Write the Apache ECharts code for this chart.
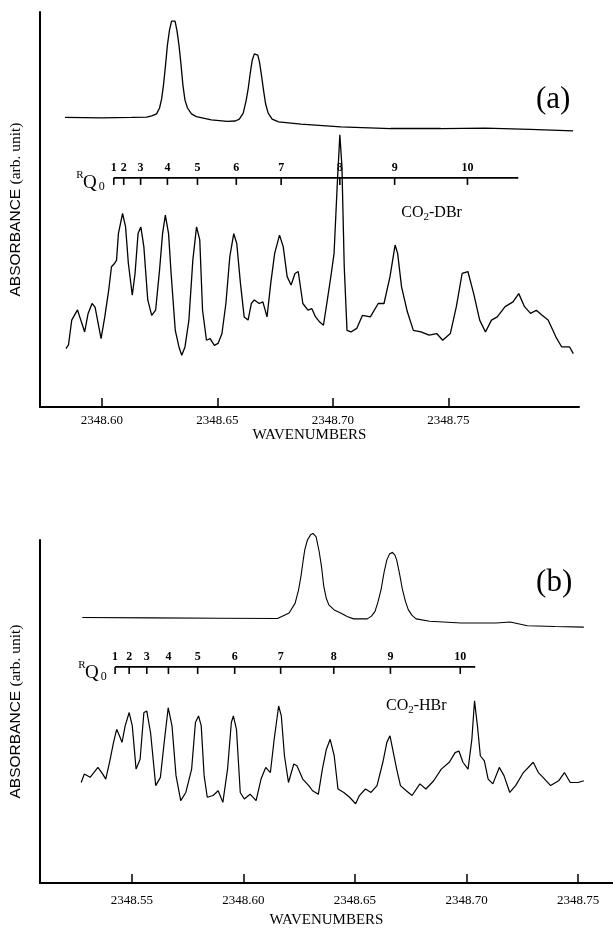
<!DOCTYPE html>
<html>
<head>
<meta charset="utf-8">
<script src="https://cdn.jsdelivr.net/npm/echarts@6/dist/echarts.min.js"></script>
<style>
html,body{margin:0;padding:0;background:#fff;}
#c{width:613px;height:931px;}
</style>
</head>
<body>
<div id="c"></div>
<script>
// ---------- Panel (a): CO2-DBr ----------
const ticksA = [2348.60, 2348.65, 2348.70, 2348.75];
const topA_wn = [2348.5841,2348.6000,2348.6129,2348.6194,2348.6216,2348.6237,2348.6250,2348.6259,2348.6267,2348.6276,2348.6284,2348.6293,2348.6302,2348.6309,2348.6317,2348.6325,2348.6334,2348.6343,2348.6351,2348.6360,2348.6371,2348.6388,2348.6409,2348.6474,2348.6543,2348.6578,2348.6595,2348.6612,2348.6625,2348.6634,2348.6643,2348.6651,2348.6660,2348.6667,2348.6675,2348.6683,2348.6692,2348.6701,2348.6709,2348.6720,2348.6737,2348.6765,2348.6862,2348.7034,2348.7250,2348.7466,2348.7659,2348.7853,2348.8039];
const topA_abs = [0.733,0.732,0.733,0.734,0.737,0.742,0.757,0.780,0.815,0.866,0.916,0.954,0.977,0.982,0.977,0.954,0.916,0.866,0.815,0.777,0.757,0.742,0.735,0.727,0.723,0.724,0.729,0.744,0.777,0.808,0.848,0.878,0.894,0.896,0.891,0.871,0.835,0.797,0.767,0.744,0.729,0.722,0.716,0.709,0.705,0.705,0.706,0.703,0.699];
const specA_wn = [2348.5845,2348.5856,2348.5870,2348.5895,2348.5912,2348.5926,2348.5941,2348.5958,2348.5971,2348.5997,2348.6013,2348.6030,2348.6042,2348.6056,2348.6064,2348.6072,2348.6090,2348.6103,2348.6115,2348.6132,2348.6144,2348.6157,2348.6169,2348.6182,2348.6199,2348.6216,2348.6233,2348.6250,2348.6263,2348.6275,2348.6289,2348.6300,2348.6318,2348.6334,2348.6346,2348.6360,2348.6377,2348.6394,2348.6410,2348.6424,2348.6436,2348.6453,2348.6469,2348.6487,2348.6503,2348.6520,2348.6537,2348.6554,2348.6571,2348.6584,2348.6600,2348.6616,2348.6633,2348.6647,2348.6660,2348.6681,2348.6697,2348.6715,2348.6731,2348.6748,2348.6769,2348.6785,2348.6802,2348.6819,2348.6836,2348.6850,2348.6870,2348.6892,2348.6909,2348.6925,2348.6943,2348.6959,2348.6976,2348.6993,2348.7005,2348.7019,2348.7030,2348.7039,2348.7049,2348.7061,2348.7078,2348.7103,2348.7128,2348.7162,2348.7196,2348.7221,2348.7247,2348.7269,2348.7280,2348.7297,2348.7322,2348.7348,2348.7381,2348.7416,2348.7449,2348.7475,2348.7508,2348.7534,2348.7559,2348.7584,2348.7609,2348.7635,2348.7660,2348.7686,2348.7711,2348.7745,2348.7779,2348.7804,2348.7829,2348.7855,2348.7880,2348.7905,2348.7931,2348.7965,2348.7990,2348.8024,2348.8040];
const specA_abs = [0.148,0.157,0.220,0.246,0.215,0.190,0.237,0.262,0.253,0.173,0.228,0.296,0.355,0.364,0.372,0.439,0.490,0.456,0.364,0.283,0.338,0.439,0.456,0.406,0.271,0.232,0.245,0.347,0.439,0.486,0.439,0.338,0.194,0.152,0.131,0.152,0.220,0.372,0.456,0.423,0.245,0.169,0.173,0.156,0.161,0.186,0.262,0.381,0.439,0.414,0.313,0.228,0.220,0.262,0.271,0.262,0.266,0.228,0.313,0.389,0.435,0.406,0.330,0.309,0.338,0.343,0.262,0.245,0.249,0.228,0.215,0.207,0.271,0.338,0.389,0.566,0.689,0.609,0.355,0.194,0.190,0.199,0.232,0.228,0.262,0.262,0.330,0.410,0.389,0.304,0.241,0.194,0.190,0.182,0.186,0.169,0.186,0.254,0.338,0.343,0.287,0.220,0.190,0.220,0.228,0.254,0.266,0.287,0.254,0.237,0.245,0.232,0.220,0.177,0.152,0.152,0.135];
const ladderA_wn = [2348.6052,2348.6095,2348.6168,2348.6284,2348.6414,2348.6582,2348.6776,2348.7030,2348.7267,2348.7582];
const ladderA_end = 2348.7802;
const ladderA_level = 0.580;

// ---------- Panel (b): CO2-HBr ----------
const ticksB = [2348.55, 2348.60, 2348.65, 2348.70, 2348.75];
const topB_wn = [2348.5278,2348.5585,2348.5898,2348.6153,2348.6205,2348.6232,2348.6247,2348.6258,2348.6267,2348.6275,2348.6287,2348.6301,2348.6312,2348.6326,2348.6340,2348.6351,2348.6360,2348.6371,2348.6383,2348.6407,2348.6436,2348.6465,2348.6494,2348.6555,2348.6574,2348.6590,2348.6603,2348.6617,2348.6630,2348.6643,2348.6655,2348.6668,2348.6679,2348.6687,2348.6700,2348.6713,2348.6726,2348.6739,2348.6755,2348.6774,2348.6835,2348.6975,2348.7133,2348.7196,2348.7273,2348.7397,2348.7526];
const topB_abs = [0.774,0.773,0.772,0.771,0.787,0.816,0.854,0.894,0.936,0.971,1.000,1.015,1.019,1.009,0.965,0.918,0.866,0.831,0.811,0.796,0.787,0.777,0.770,0.770,0.778,0.792,0.819,0.855,0.904,0.942,0.959,0.964,0.956,0.942,0.901,0.855,0.822,0.797,0.781,0.770,0.763,0.758,0.758,0.761,0.750,0.748,0.746];
const specB_wn = [2348.5273,2348.5287,2348.5313,2348.5348,2348.5369,2348.5383,2348.5400,2348.5418,2348.5432,2348.5444,2348.5456,2348.5470,2348.5488,2348.5502,2348.5519,2348.5537,2348.5554,2348.5567,2348.5584,2348.5607,2348.5628,2348.5645,2348.5663,2348.5680,2348.5698,2348.5719,2348.5742,2348.5768,2348.5785,2348.5799,2348.5811,2348.5824,2348.5838,2348.5864,2348.5887,2348.5908,2348.5929,2348.5946,2348.5955,2348.5969,2348.5986,2348.6004,2348.6030,2348.6057,2348.6079,2348.6100,2348.6121,2348.6138,2348.6158,2348.6170,2348.6184,2348.6202,2348.6226,2348.6240,2348.6266,2348.6293,2348.6310,2348.6336,2348.6354,2348.6372,2348.6389,2348.6407,2348.6424,2348.6450,2348.6476,2348.6503,2348.6520,2348.6547,2348.6572,2348.6599,2348.6625,2348.6643,2348.6657,2348.6669,2348.6687,2348.6704,2348.6730,2348.6756,2348.6791,2348.6818,2348.6853,2348.6887,2348.6923,2348.6949,2348.6966,2348.6984,2348.7007,2348.7024,2348.7036,2348.7049,2348.7062,2348.7080,2348.7097,2348.7118,2348.7147,2348.7168,2348.7194,2348.7220,2348.7255,2348.7299,2348.7322,2348.7343,2348.7377,2348.7413,2348.7439,2348.7465,2348.7500,2348.7526];
const specB_abs = [0.293,0.318,0.308,0.337,0.318,0.303,0.352,0.410,0.448,0.430,0.410,0.458,0.497,0.458,0.332,0.361,0.497,0.501,0.438,0.284,0.308,0.410,0.511,0.458,0.313,0.240,0.264,0.332,0.468,0.487,0.458,0.313,0.250,0.255,0.269,0.235,0.332,0.468,0.487,0.448,0.264,0.245,0.259,0.240,0.303,0.337,0.322,0.419,0.516,0.487,0.371,0.293,0.347,0.342,0.303,0.284,0.269,0.259,0.332,0.390,0.419,0.371,0.274,0.264,0.250,0.231,0.255,0.274,0.264,0.284,0.352,0.410,0.429,0.390,0.332,0.284,0.269,0.255,0.289,0.274,0.298,0.332,0.352,0.380,0.385,0.352,0.332,0.419,0.531,0.458,0.371,0.356,0.303,0.289,0.337,0.313,0.264,0.284,0.322,0.352,0.322,0.308,0.284,0.298,0.322,0.293,0.293,0.298];
const ladderB_wn = [2348.5425,2348.5488,2348.5567,2348.5664,2348.5795,2348.5961,2348.6167,2348.6405,2348.6659,2348.6972];
const ladderB_end = 2348.7039;
const ladderB_level = 0.630;

const ladderLabels = ['1','2','3','4','5','6','7','8','9','10'];

// text annotations (data coordinates)
const annA = {tag:[2348.7953,0.777], name:[2348.7427,0.491], rq:[2348.6022,0.575]};
const annB = {tag:[2348.7393,0.875], name:[2348.6775,0.516], rq:[2348.5397,0.621]};

// ---------------------------------------------
const SERIF = '"Liberation Serif","DejaVu Serif",serif';
const SANS = '"Liberation Sans",Arial,sans-serif';
const zip = (a,b) => a.map((v,i)=>[v,b[i]]);

function ladderSeries(idx, wn, level) {
  return {
    type:'custom', xAxisIndex:idx, yAxisIndex:idx, clip:false,
    data: wn.map(w=>[w, level]),
    renderItem(params, api){
      const p = api.coord([api.value(0), api.value(1)]);
      return {type:'group', children:[
        {type:'line', shape:{x1:p[0], y1:p[1], x2:p[0], y2:p[1]+7}, style:{stroke:'#000', lineWidth:1.6}},
        {type:'text', x:p[0], y:p[1]-4, style:{text:ladderLabels[params.dataIndex], align:'center', verticalAlign:'bottom', font:'bold 12px '+SERIF, fill:'#000'}}
      ]};
    }
  };
}
function annSeries(idx, ann, tag, mol) {
  return {
    type:'custom', xAxisIndex:idx, yAxisIndex:idx, clip:false,
    data:[ann.tag, ann.name, ann.rq],
    renderItem(params, api){
      const p = api.coord([api.value(0), api.value(1)]);
      const i = params.dataIndex;
      if (i===0) return {type:'text', x:p[0], y:p[1], style:{text:tag, align:'center', verticalAlign:'middle', font:'31px '+SERIF, fill:'#000'}};
      if (i===1) return {type:'text', x:p[0], y:p[1], style:{text:'{a|CO}{s|2}{a|-'+mol+'}', align:'center', verticalAlign:'middle', fill:'#000',
          rich:{a:{fontFamily:SERIF, fontSize:16, fill:'#000'}, s:{fontFamily:SERIF, fontSize:11, padding:[9,0,0,0], fill:'#000'}}}};
      return {type:'group', children:[
        {type:'text', x:p[0]-27, y:p[1]-5, style:{text:'R', align:'center', verticalAlign:'middle', font:'11px '+SERIF, fill:'#000'}},
        {type:'text', x:p[0]-17, y:p[1]+3, style:{text:'Q', align:'center', verticalAlign:'middle', font:'19px '+SERIF, fill:'#000'}},
        {type:'text', x:p[0]-5, y:p[1]+7, style:{text:'0', align:'center', verticalAlign:'middle', font:'12px '+SERIF, fill:'#000'}}
      ]};
    }
  };
}
function lineSeries(idx, wn, ab, w) {
  return {type:'line', xAxisIndex:idx, yAxisIndex:idx, data:zip(wn,ab), showSymbol:false, symbol:'none', clip:false,
    lineStyle:{color:'#000', width:w}, animation:false};
}
function xAxisCfg(idx, min, max, ticks, margin, nameGap) {
  return {type:'value', gridIndex:idx, min, max, name:'WAVENUMBERS', nameLocation:'middle', nameGap,
    nameTextStyle:{fontFamily:SERIF, fontSize:15, color:'#000'},
    axisLine:{show:true, onZero:false, lineStyle:{color:'#000', width:2}},
    axisTick:{show:true, inside:true, length:9, customValues:ticks, lineStyle:{color:'#000', width:1.5}},
    axisLabel:{show:true, customValues:ticks, margin, formatter:v=>v.toFixed(2), fontFamily:SERIF, fontSize:13, color:'#000'},
    splitLine:{show:false}};
}
function yAxisCfg(idx) {
  return {type:'value', gridIndex:idx, min:0, max:1, name:'{a|ABSORBANCE }{b|(arb. unit)}', nameLocation:'middle', nameGap:16, nameRotate:90,
    nameTextStyle:{rich:{a:{fontFamily:SANS, fontSize:15.5, color:'#000'}, b:{fontFamily:SERIF, fontSize:15.5, color:'#000'}}},
    axisLine:{show:true, lineStyle:{color:'#000', width:2}}, axisTick:{show:false}, axisLabel:{show:false}, splitLine:{show:false}};
}

const chart = echarts.init(document.getElementById('c'), null, {renderer:'canvas'});
chart.setOption({
  animation:false,
  backgroundColor:'#fff',
  grid:[
    {left:38, top:12, width:541, height:395},
    {left:39, top:540, width:574, height:343}
  ],
  xAxis:[
    xAxisCfg(0, 2348.573276, 2348.806466, ticksA, 7, 20),
    xAxisCfg(1, 2348.508837, 2348.765660, ticksB, 11, 30)
  ],
  yAxis:[yAxisCfg(0), yAxisCfg(1)],
  series:[
    lineSeries(0, topA_wn, topA_abs, 1.3),
    lineSeries(0, specA_wn, specA_abs, 1.3),
    lineSeries(0, [ladderA_wn[0], ladderA_end], [ladderA_level, ladderA_level], 1.6),
    ladderSeries(0, ladderA_wn, ladderA_level),
    annSeries(0, annA, '(a)', 'DBr'),
    lineSeries(1, topB_wn, topB_abs, 1.1),
    lineSeries(1, specB_wn, specB_abs, 1.2),
    lineSeries(1, [ladderB_wn[0], ladderB_end], [ladderB_level, ladderB_level], 1.6),
    ladderSeries(1, ladderB_wn, ladderB_level),
    annSeries(1, annB, '(b)', 'HBr')
  ]
});
</script>
</body>
</html>
